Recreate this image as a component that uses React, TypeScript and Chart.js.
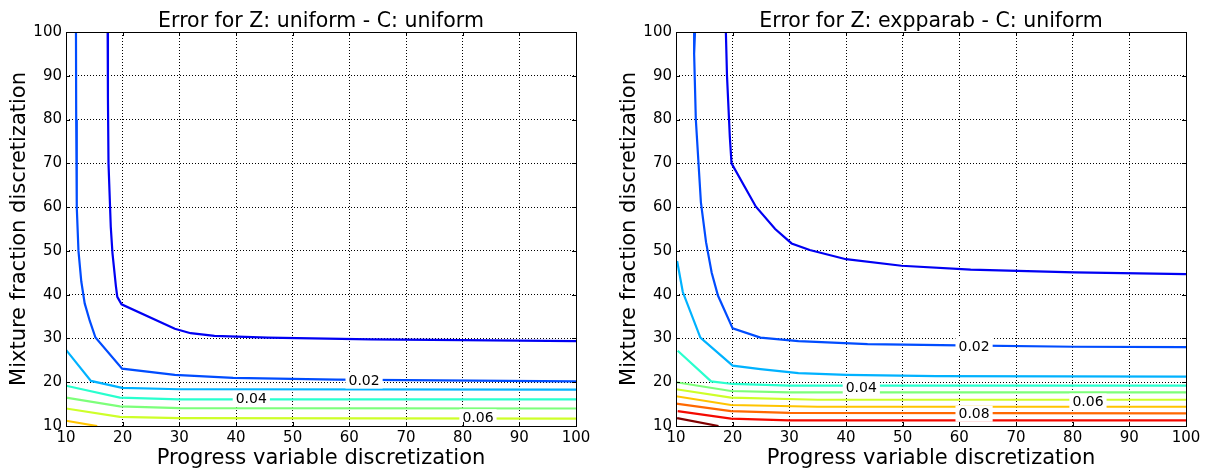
import React, { useEffect, useRef } from 'react';
import { Chart, registerables } from 'chart.js';

Chart.register(...registerables);
Chart.defaults.font.family = '"DejaVu Sans", sans-serif';

// ---- axis ticks ----
const xTickValues = [10, 20, 30, 40, 50, 60, 70, 80, 90, 100];
const yTickValues = [10, 20, 30, 40, 50, 60, 70, 80, 90, 100];

// ---- contour levels and jet colours ----
const levelNames = ['0.01', '0.02', '0.03', '0.04', '0.05', '0.06', '0.07', '0.08', '0.09', '0.10'];
const levelColors = ['#0000f3', '#004cff', '#00b2ff', '#29ffce', '#7dff7a', '#ceff29', '#ffc400', '#ff6800', '#f40900', '#800000'];

// ---- Left panel: Z uniform - C uniform  (points are [progress var, mixture fraction]) ----
const uniform001 = [[17.35, 100], [17.4, 85], [17.5, 70], [17.9, 55.5], [18.2, 49.5], [18.8, 42], [19.05, 39.5], [19.8, 37.8], [29.2, 32.2], [32, 31.2], [36.2, 30.6], [45.6, 30.2], [63.8, 29.8], [80, 29.6], [100, 29.4]];
const uniform002 = [[11.76, 100], [11.8, 80], [11.9, 60], [12.2, 50], [12.7, 43], [13.3, 38], [14.2, 34], [15.2, 30.2], [19.9, 23.1], [29.2, 21.7], [39.5, 21.0], [57.7, 20.6], [100, 20.2]];
const uniform003 = [[10, 27.4], [14.4, 20.3], [19.9, 18.7], [30, 18.4], [100, 18.3]];
const uniform004 = [[10, 19.2], [19.5, 16.5], [30, 16.1], [100, 16.1]];
const uniform005 = [[10, 16.5], [19.5, 14.5], [30, 14.1], [100, 14.0]];
const uniform006 = [[10, 14.0], [19.5, 12.1], [30, 11.8], [100, 11.7]];
const uniform007 = [[10, 11.2], [15.5, 10]];
const uniformLines = [uniform001, uniform002, uniform003, uniform004, uniform005, uniform006, uniform007];
const uniformLabels = [
  { text: '0.02', x: 62.6, y: 20.4 },
  { text: '0.04', x: 42.7, y: 16.2 },
  { text: '0.06', x: 82.7, y: 12.0 },
];

// ---- Right panel: Z expparab - C uniform ----
const expparab001 = [[18.8, 100], [19.0, 90], [19.5, 76], [19.8, 70], [24.1, 60.1], [27.5, 55], [30.4, 51.7], [33.6, 50.2], [40, 48.1], [49.8, 46.6], [62, 45.7], [80.3, 45.1], [100, 44.7]];
const expparab002 = [[13.35, 100], [13.2, 95], [13.5, 80], [14.4, 61], [15.3, 52], [16.3, 45], [17.4, 39.8], [20, 32.3], [24.9, 30.2], [31.6, 29.4], [43.8, 28.7], [60, 28.4], [80.3, 28.1], [100, 28.0]];
const expparab003 = [[10.2, 47.7], [11.2, 40.6], [14.3, 30.2], [20, 23.8], [24.9, 23.0], [31.6, 22.1], [40.1, 21.7], [55.9, 21.4], [100, 21.3]];
const expparab004 = [[10.3, 27.2], [16.2, 20.2], [20, 19.6], [30, 19.2], [100, 19.2]];
const expparab005 = [[10, 20.0], [19.7, 18.0], [30, 17.7], [100, 17.7]];
const expparab006 = [[10, 18.4], [19.7, 16.5], [35, 16.0], [100, 16.0]];
const expparab007 = [[10, 16.8], [19.7, 14.8], [35, 14.4], [100, 14.4]];
const expparab008 = [[10, 15.1], [19.7, 13.4], [30, 13.0], [100, 12.9]];
const expparab009 = [[10.3, 13.4], [19.7, 11.7], [30, 11.3], [100, 11.3]];
const expparab010 = [[10.2, 11.8], [17.5, 10]];
const expparabLines = [expparab001, expparab002, expparab003, expparab004, expparab005, expparab006, expparab007, expparab008, expparab009, expparab010];
const expparabLabels = [
  { text: '0.02', x: 62.6, y: 28.3 },
  { text: '0.04', x: 42.7, y: 18.9 },
  { text: '0.06', x: 82.7, y: 15.6 },
  { text: '0.08', x: 62.6, y: 12.8 },
];

const W = 604;
const H = 471;

type Label = { text: string; x: number; y: number };

function ContourPanel(props: { title: string; lines: number[][][]; labels: Label[]; plotLeft: number; plotRight: number; offsetX: number }) {
  const ref = useRef<HTMLCanvasElement | null>(null);
  useEffect(() => {
    const canvas = ref.current;
    if (!canvas) return;
    const { title, lines, labels, plotLeft, plotRight } = props;

    const decor = {
      id: 'decor',
      afterDatasetsDraw(chart: any) {
        const ctx = chart.ctx;
        const xs = chart.scales.x;
        const ys = chart.scales.y;
        ctx.save();
        ctx.font = '14px "DejaVu Sans"';
        ctx.textAlign = 'center';
        ctx.textBaseline = 'middle';
        labels.forEach((l) => {
          const px = xs.getPixelForValue(l.x);
          const py = ys.getPixelForValue(l.y);
          const w = ctx.measureText(l.text).width;
          ctx.fillStyle = '#ffffff';
          ctx.fillRect(px - w / 2 - 3, py - 8, w + 6, 16);
          ctx.fillStyle = '#000000';
          ctx.fillText(l.text, px, py + 1);
        });
        ctx.restore();
      },
      afterDraw(chart: any) {
        const ctx = chart.ctx;
        const { left, right, top, bottom } = chart.chartArea;
        const xs = chart.scales.x;
        const ys = chart.scales.y;
        ctx.save();
        ctx.strokeStyle = '#000';
        ctx.lineWidth = 1;
        ctx.beginPath();
        xTickValues.forEach((v) => {
          const px = Math.round(xs.getPixelForValue(v)) + 0.5;
          ctx.moveTo(px, bottom);
          ctx.lineTo(px, bottom - 4);
          ctx.moveTo(px, top);
          ctx.lineTo(px, top + 4);
        });
        yTickValues.forEach((v) => {
          const py = Math.round(ys.getPixelForValue(v)) + 0.5;
          ctx.moveTo(left, py);
          ctx.lineTo(left + 4, py);
          ctx.moveTo(right, py);
          ctx.lineTo(right - 4, py);
        });
        ctx.stroke();
        ctx.strokeRect(Math.round(left) + 0.5, Math.round(top) + 0.5, Math.round(right - left), Math.round(bottom - top));
        ctx.fillStyle = '#000';
        ctx.font = '20.5px "DejaVu Sans"';
        ctx.textAlign = 'center';
        ctx.textBaseline = 'alphabetic';
        ctx.fillText(title, (left + right) / 2, 27);
        ctx.restore();
      },
    };

    const chart = new Chart(canvas, {
      type: 'scatter',
      data: {
        datasets: lines.map((pts, i) => ({
          label: levelNames[i],
          data: pts.map((p) => ({ x: p[0], y: p[1] })),
          showLine: true,
          borderColor: levelColors[i],
          backgroundColor: levelColors[i],
          borderWidth: 2.2,
          pointRadius: 0,
          pointHoverRadius: 0,
          tension: 0,
          fill: false,
        })),
      },
      options: {
        responsive: false,
        animation: false,
        devicePixelRatio: 1,
        layout: { padding: { left: 0, right: W - plotRight, top: 32, bottom: 0 } },
        plugins: { legend: { display: false }, title: { display: false }, tooltip: { enabled: false } },
        scales: {
          x: {
            type: 'linear',
            min: 10,
            max: 100,
            afterFit(scale: any) {
              scale.height = 45;
            },
            afterBuildTicks(scale: any) {
              scale.ticks = xTickValues.map((v) => ({ value: v }));
            },
            ticks: { font: { size: 15 }, color: '#000', padding: 3, maxRotation: 0, autoSkip: false },
            grid: { color: '#000', lineWidth: 1, drawTicks: false },
            border: { display: false, dash: [1, 2] },
            title: { display: true, text: 'Progress variable discretization', font: { size: 21 }, color: '#000', padding: { top: 0, bottom: 0 } },
          },
          y: {
            type: 'linear',
            min: 10,
            max: 100,
            afterFit(scale: any) {
              scale.width = plotLeft;
            },
            afterBuildTicks(scale: any) {
              scale.ticks = yTickValues.map((v) => ({ value: v }));
            },
            ticks: { font: { size: 15 }, color: '#000', padding: 4, autoSkip: false },
            grid: { color: '#000', lineWidth: 1, drawTicks: false },
            border: { display: false, dash: [1, 2] },
            title: { display: true, text: 'Mixture fraction discretization', font: { size: 21 }, color: '#000', padding: { top: plotLeft - 59, bottom: 0 } },
          },
        },
      },
      plugins: [decor],
    });
    return () => chart.destroy();
  }, []);
  return (
    <canvas
      ref={ref}
      width={W}
      height={H}
      style={{ position: 'absolute', left: props.offsetX, top: 0, width: W, height: H }}
    />
  );
}

export default function App() {
  return (
    <div style={{ position: 'fixed', left: 0, top: 0, width: 1208, height: 471, background: '#fff' }}>
      <ContourPanel title="Error for Z: uniform - C: uniform" lines={uniformLines} labels={uniformLabels} plotLeft={66} plotRight={576} offsetX={0} />
      <ContourPanel title="Error for Z: expparab - C: uniform" lines={expparabLines} labels={expparabLabels} plotLeft={72} plotRight={582} offsetX={604} />
    </div>
  );
}
